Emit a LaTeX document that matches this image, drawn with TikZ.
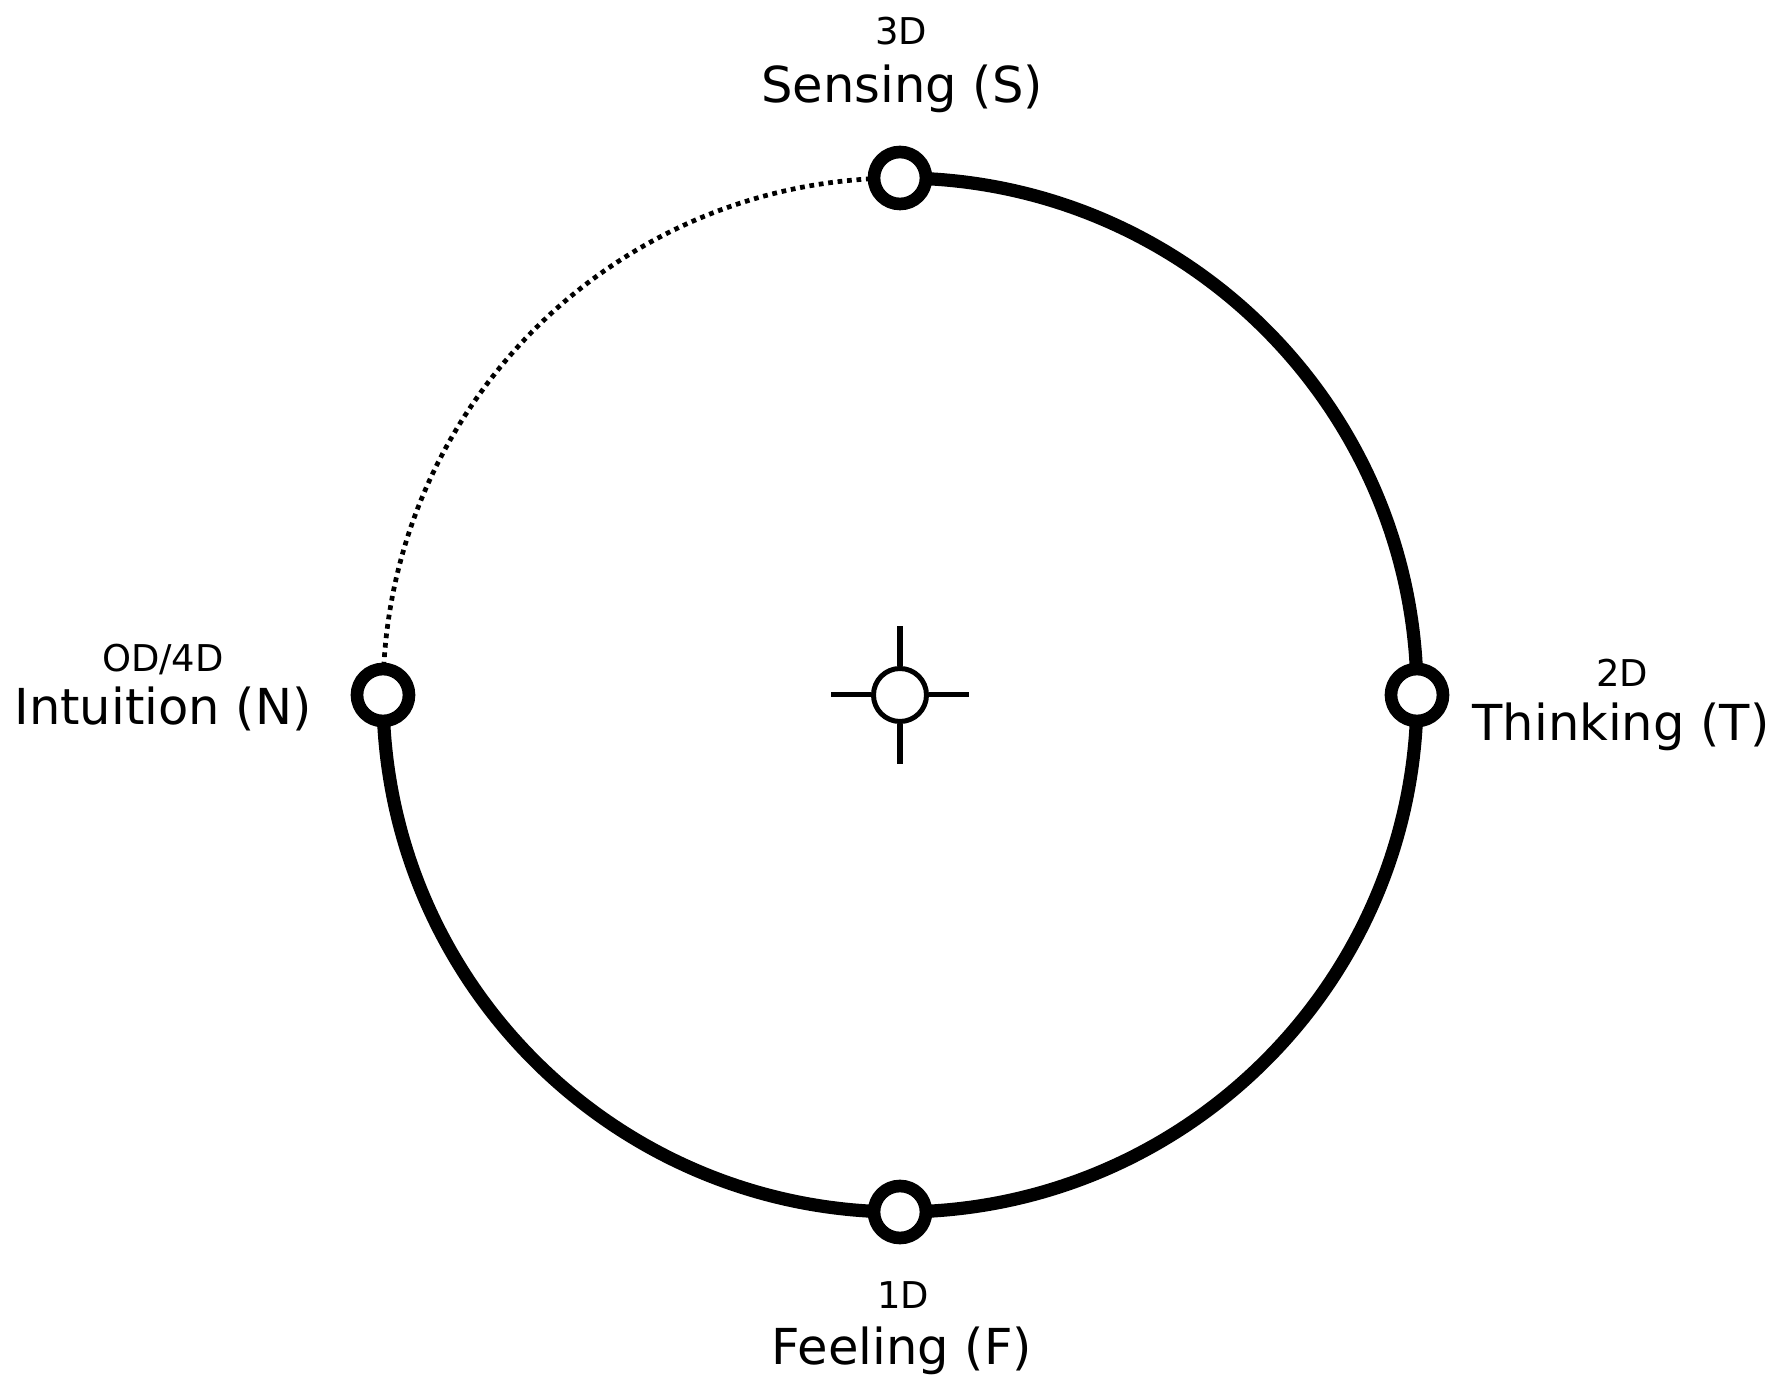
\documentclass[tikz,border=0pt]{standalone}
\usepackage{fontspec}
\setmainfont{DejaVu Sans}
\usepackage{tikz}
\usetikzlibrary{backgrounds}

\tikzset{
  pole/.style={circle, draw, fill=white, line width=7.2pt, minimum size=1.04cm, inner sep=0pt},
  hub/.style={circle, draw, fill=white, line width=2.85pt, minimum size=1.06cm, inner sep=0pt},
  hubline/.style={line width=2.85pt},
  ringline/.style={line width=7.5pt},
  dotline/.style={line width=2.7pt, dash pattern=on 2.7pt off 2.7pt},
  funclbl/.style={font=\fontsize{28.2}{34}\selectfont, anchor=base, inner sep=0pt},
  dimlbl/.style={font=\fontsize{21}{25}\selectfont, anchor=base, inner sep=0pt}
}

\begin{document}
\begin{tikzpicture}
  \useasboundingbox (-18,-13.96) rectangle (17.56,13.9);
  \def\R{10.34}

  % the four functions on the ring
  \foreach \nm/\ang in {S/90, T/0, F/270, N/180}{
    \node[pole] (\nm) at (\ang:\R) {};
  }

  \begin{scope}[on background layer]
    \draw[ringline] (S.center) arc[start angle=90, end angle=-180, radius=\R cm];
    \draw[dotline] (N.center) arc[start angle=180, end angle=90, radius=\R cm];
  \end{scope}

  % centre mark
  \node[hub] (C) at (0,0) {};
  \foreach \a in {0,90,180,270}{
    \draw[hubline] (C.\a) -- (\a:1.38);
  }

  % labels
  \node[dimlbl]  (Sdim) at (0.02,13.0) {3D};
  \node[funclbl] (Slbl) at (0.04,11.852) {Sensing (S)};
  \node[dimlbl]  (Ndim) at (-14.74,0.46) {OD/4D};
  \node[funclbl] (Nlbl) at (-14.74,-0.598) {Intuition (N)};
  \node[dimlbl]  (Tdim) at (14.44,0.16) {2D};
  \node[funclbl] (Tlbl) at (14.42,-0.918) {Thinking (T)};
  \node[dimlbl]  (Fdim) at (0.06,-12.26) {1D};
  \node[funclbl] (Flbl) at (0.04,-13.398) {Feeling (F)};
\end{tikzpicture}
\end{document}
